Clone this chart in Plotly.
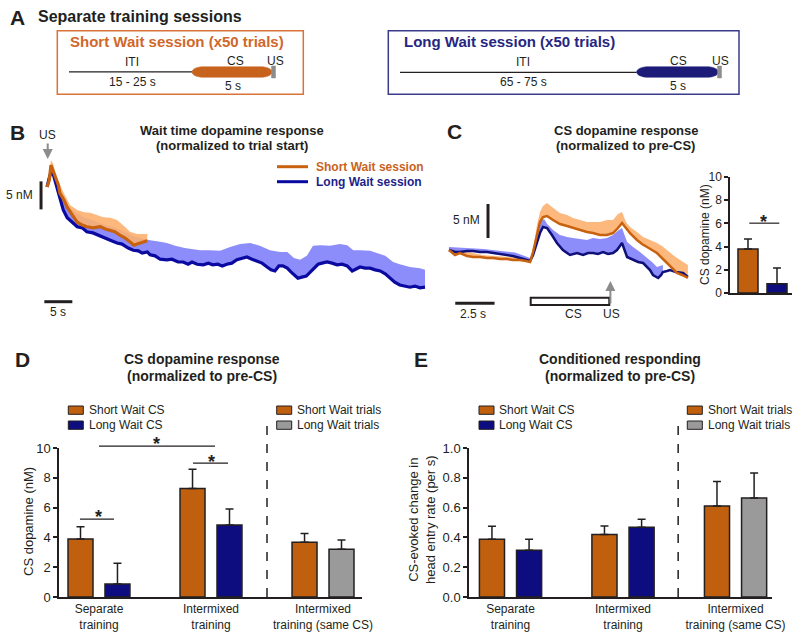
import plotly.graph_objects as go

# ---------------------------------------------------------------- data
# Panel B : wait-time dopamine traces (time in s from US, dopamine in nM)
b_long_t = [0.0, 0.5, 0.9, 1.4, 2.0, 2.3, 2.9, 3.6, 4.5, 5.4, 6.3, 7.1, 8.2, 9.5, 10.4, 11.3, 12.5, 13.4,
            14.5, 15.4, 16.3, 17.0, 17.9, 18.4, 19.3, 20.2, 21.4, 22.3, 23.4, 24.3, 25.2, 25.9, 26.8, 27.9,
            28.8, 29.6, 30.5, 31.3, 32.1, 33.0, 33.9, 34.8, 35.7, 36.6, 37.5, 38.4, 39.3, 40.0, 40.7, 41.4,
            42.1, 42.9, 43.6, 44.1, 44.8, 45.5, 46.3, 47.0, 47.7, 48.4, 49.1, 50.0, 50.9, 51.8, 52.7, 53.6,
            54.5, 55.2, 55.9, 56.8, 57.7, 58.6, 59.5, 60.4, 61.3, 62.1, 63.0, 63.9, 64.8, 65.7, 66.6, 67.5]
b_long = [18.4, 20.4, 21.4, 19.6, 17.5, 16.1, 14.3, 12.9, 12.0, 11.3, 11.1, 10.4, 10.2, 9.6, 9.3, 8.9, 8.4, 8.2,
          7.5, 7.1, 7.0, 6.6, 6.8, 6.3, 6.1, 5.5, 5.4, 5.5, 5.0, 5.0, 4.6, 5.0, 4.6, 4.5, 4.8, 4.5, 4.6, 4.3,
          4.6, 4.8, 5.4, 5.7, 5.9, 5.5, 5.2, 4.8, 4.1, 3.6, 3.4, 4.3, 4.3, 3.9, 3.2, 2.7, 2.1, 2.3, 2.5, 3.2,
          3.9, 4.6, 4.8, 5.0, 4.8, 4.5, 4.6, 4.3, 3.4, 3.8, 4.1, 3.9, 3.9, 3.6, 3.4, 2.9, 2.1, 1.4, 0.9, 0.7,
          0.5, 0.7, 0.4, 0.5]
b_long_up_t = [0.0, 0.5, 0.9, 1.4, 2.3, 3.6, 5.0, 6.8, 8.6, 10.4, 12.1, 13.9, 15.7, 17.5, 18.4, 20.2, 21.4,
               22.9, 24.6, 27.3, 29.1, 30.9, 32.7, 34.5, 36.3, 38.0, 39.8, 41.6, 42.9, 44.1, 45.2, 46.4, 47.5,
               48.8, 50.5, 52.3, 53.6, 54.7, 55.9, 57.7, 58.9, 60.4, 61.8, 63.0, 64.8, 66.6, 67.5]
b_long_up = [18.8, 21.1, 22.1, 21.1, 17.9, 15.2, 13.9, 12.9, 12.3, 11.6, 11.1, 10.4, 9.5, 9.1, 8.9, 8.6, 8.4,
             7.9, 7.5, 7.1, 7.1, 7.0, 7.7, 8.2, 8.4, 7.9, 7.1, 6.8, 6.8, 5.7, 5.4, 6.1, 7.9, 8.0, 7.9, 8.2,
             8.0, 7.1, 7.1, 7.0, 6.6, 6.1, 5.0, 4.6, 4.1, 3.9, 3.6]
b_short_t = [0.0, 0.4, 0.7, 1.1, 1.4, 2.0, 2.3, 3.0, 3.6, 4.5, 5.4, 6.3, 7.1, 8.2, 9.5, 10.4, 11.3, 12.1, 13.0,
             13.9, 14.8, 15.5, 16.1, 16.6, 17.3, 17.9]
b_short = [18.4, 19.6, 22.3, 21.4, 20.4, 18.8, 17.3, 16.1, 14.8, 13.4, 12.1, 11.6, 11.3, 11.1, 11.3, 10.9,
           10.7, 10.4, 9.8, 9.3, 8.6, 8.0, 8.2, 8.4, 8.6, 8.8]
b_short_up_t = [0.0, 0.4, 0.7, 1.1, 1.4, 2.0, 2.9, 4.1, 5.4, 6.6, 7.7, 8.9, 10.0, 11.3, 12.5, 13.8, 14.8,
                16.1, 17.1, 17.9]
b_short_up = [18.8, 20.4, 23.2, 22.5, 21.4, 19.6, 17.5, 15.2, 14.3, 13.9, 13.8, 13.4, 13.0, 12.9, 12.5, 11.4,
              10.4, 10.0, 10.0, 10.0]

# Panel C : CS dopamine traces (time in s from CS onset, dopamine in nM)
c_long_t = [-5.2, -4.82, -4.5, -4.05, -3.67, -3.23, -2.78, -2.4, -1.95, -1.51, -1.13, -0.68, -0.3, -0.04, 0.15,
            0.4, 0.59, 0.78, 1.04, 1.35, 1.67, 2.05, 2.5, 2.95, 3.33, 3.65, 3.96, 4.28, 4.6, 4.92, 5.24, 5.49,
            5.81, 6.13, 6.51, 6.83, 7.15, 7.4, 7.59, 7.78, 8.11, 8.3, 8.41, 8.67, 8.86, 9.24, 9.69, 10.0]
c_long = [1.76, 1.47, 1.47, 1.62, 1.62, 1.47, 1.47, 1.32, 1.18, 1.03, 0.88, 0.59, 0.29, 0.15, 1.03, 2.79,
          4.26, 5.15, 5.0, 3.97, 2.79, 1.76, 1.03, 1.32, 1.03, 1.32, 1.32, 1.18, 1.47, 1.18, 1.32, 1.76, 2.79,
          0.74, 0.29, 0.0, -0.15, -0.74, -1.18, -1.91, -2.35, -1.91, -1.47, -1.32, -1.18, -1.47, -1.62, -2.21]
c_long_up_t = [-5.2, -3.0, -1.0, -0.04, 0.15, 0.4, 0.59, 0.85, 1.04, 1.42, 1.86, 2.31, 2.69, 3.14, 3.58,
               3.96, 4.41, 4.85, 5.24, 5.55, 5.81, 6.13, 6.51, 6.95, 7.4, 7.72, 8.03, 8.41]
c_long_up = [2.2, 1.9, 1.4, 0.6, 1.47, 3.97, 5.88, 6.32, 5.59, 4.71, 3.97, 3.68, 3.53, 3.38, 3.24, 3.53,
             3.38, 3.53, 3.97, 4.6, 5.0, 2.94, 2.21, 1.47, 0.59, 0.0, -0.74, -0.44]
c_short_t = [-5.2, -4.82, -4.5, -4.05, -3.67, -3.23, -2.78, -2.4, -1.95, -1.51, -1.13, -0.68, -0.3, -0.04,
             0.15, 0.4, 0.59, 0.78, 1.04, 1.42, 1.86, 2.31, 2.69, 3.14, 3.58, 3.96, 4.41, 4.85, 5.24, 5.55,
             5.81, 6.06, 6.32, 6.76, 7.08, 7.4, 7.72, 8.03, 8.35, 8.67, 8.99, 9.31, 9.63, 10.0]
c_short = [1.76, 1.03, 1.32, 0.88, 0.74, 0.74, 0.59, 0.59, 0.44, 0.44, 0.29, 0.29, 0.15, 0.0, 1.47, 4.26,
           5.88, 6.62, 6.76, 6.18, 5.59, 5.29, 5.0, 4.71, 4.41, 4.26, 3.97, 3.97, 4.26, 5.0, 5.74, 5.0, 4.26,
           3.24, 2.65, 2.21, 1.76, 1.32, 0.59, -0.15, -0.88, -1.62, -1.91, -2.35]
c_short_up_t = [-5.2, -3.0, -1.0, -0.04, 0.15, 0.4, 0.59, 0.78, 1.04, 1.35, 1.86, 2.31, 2.69, 3.14, 3.58,
                3.96, 4.41, 4.85, 5.24, 5.55, 5.81, 6.06, 6.32, 6.76, 7.15, 7.59, 8.03, 8.35, 8.67, 9.05, 9.5,
                10.0]
c_short_up = [2.1, 1.0, 0.7, 0.3, 1.76, 5.44, 7.35, 8.24, 8.68, 8.09, 7.21, 6.91, 6.47, 6.18, 5.88, 5.88,
              5.88, 6.18, 6.18, 7.06, 7.35, 5.88, 5.15, 4.41, 3.68, 3.24, 2.79, 2.35, 1.76, 1.03, 0.29, -0.44]

# Panel C inset bars
c_bar_labels = ["Short Wait CS", "Long Wait CS"]
c_bar_vals = [3.8, 0.8]
c_bar_err = [0.85, 1.35]

# Panels D and E
group_labels = ["Separate<br>training", "Intermixed<br>training", "Intermixed<br>training (same CS)"]
d_short = [3.89, 7.29, 3.67]
d_short_err = [0.83, 1.28, 0.60]
d_long = [0.87, 4.83, 3.20]
d_long_err = [1.39, 1.07, 0.63]
e_short = [0.387, 0.419, 0.611]
e_short_err = [0.087, 0.058, 0.165]
e_long = [0.313, 0.468, 0.664]
e_long_err = [0.074, 0.053, 0.168]
d_ticks = [0, 2, 4, 6, 8, 10]
e_ticks = [0.0, 0.2, 0.4, 0.6, 0.8, 1.0]

# ---------------------------------------------------------------- style
W, H = 800, 636
FONT = "Liberation Sans, Arial, Helvetica, sans-serif"
TXT = "#231f20"
ORANGE = "#c0600f"
NAVY = "#0d0d80"
GRAY = "#9a9a9a"
LINE_BLUE = "#0a0aa0"
LINE_OR = "#c8620f"
BAND_BLUE = "rgba(128,128,250,0.9)"
BAND_OR = "rgba(253,176,112,0.9)"
ARROW_GRAY = "#8c8c8c"


def X(p):
    return p / W


def Y(p):
    return 1 - p / H


fig = go.Figure()


def band(t_up, up, t_line, line, color, xa, ya):
    lo, hi = t_up[0], t_up[-1]
    pts = [(t, v) for t, v in zip(t_line, line) if lo <= t <= hi]
    xs = list(t_up) + [p[0] for p in reversed(pts)]
    ys = list(up) + [p[1] for p in reversed(pts)]
    return go.Scatter(x=xs, y=ys, mode="none", fill="toself", fillcolor=color,
                      hoverinfo="skip", showlegend=False, xaxis=xa, yaxis=ya)


# ---- Panel B traces
fig.add_trace(band(b_long_up_t, b_long_up, b_long_t, b_long, BAND_BLUE, "x", "y"))
fig.add_trace(band(b_short_up_t, b_short_up, b_short_t, b_short, BAND_OR, "x", "y"))
fig.add_trace(go.Scatter(x=b_long_t, y=b_long, mode="lines", line=dict(color=LINE_BLUE, width=3.2),
                         name="Long Wait session", xaxis="x", yaxis="y"))
fig.add_trace(go.Scatter(x=b_short_t, y=b_short, mode="lines", line=dict(color=LINE_OR, width=3.2),
                         name="Short Wait session", xaxis="x", yaxis="y"))

# ---- Panel C traces
fig.add_trace(band(c_short_up_t, c_short_up, c_short_t, c_short, BAND_OR, "x2", "y2"))
fig.add_trace(band(c_long_up_t, c_long_up, c_long_t, c_long, BAND_BLUE, "x2", "y2"))
fig.add_trace(go.Scatter(x=c_long_t, y=c_long, mode="lines", line=dict(color="#10107a", width=2.5),
                         name="Long Wait session", xaxis="x2", yaxis="y2"))
fig.add_trace(go.Scatter(x=c_short_t, y=c_short, mode="lines", line=dict(color=LINE_OR, width=2.5),
                         name="Short Wait session", xaxis="x2", yaxis="y2"))


def err(arr):
    return dict(type="data", symmetric=False, array=arr, arrayminus=[0] * len(arr),
                color=TXT, thickness=1.5, width=4)


# ---- Panel C inset bars
fig.add_trace(go.Bar(x=list(range(len(c_bar_vals))), y=c_bar_vals, width=0.69, offset=-0.345,
                     marker=dict(color=[ORANGE, NAVY], line=dict(color=TXT, width=1.5)),
                     error_y=err(c_bar_err), xaxis="x3", yaxis="y3", showlegend=False))

# ---- Panels D / E bars
pos = list(range(len(group_labels)))
BW, OFF = 0.223, 0.165
long_colors = [NAVY, NAVY, GRAY]
for xa, ya, s, se, l, le in [("x4", "y4", d_short, d_short_err, d_long, d_long_err),
                             ("x5", "y5", e_short, e_short_err, e_long, e_long_err)]:
    fig.add_trace(go.Bar(x=pos, y=s, width=BW, offset=-OFF - BW / 2,
                         marker=dict(color=ORANGE, line=dict(color=TXT, width=1.5)),
                         error_y=err(se), xaxis=xa, yaxis=ya, showlegend=False))
    fig.add_trace(go.Bar(x=pos, y=l, width=BW, offset=OFF - BW / 2,
                         marker=dict(color=long_colors, line=dict(color=TXT, width=1.5)),
                         error_y=err(le), xaxis=xa, yaxis=ya, showlegend=False))

# ---------------------------------------------------------------- axes
hidden = dict(visible=False, showgrid=False, zeroline=False, fixedrange=True, automargin=False)
tf = dict(family=FONT, size=12, color=TXT)
tf13 = dict(family=FONT, size=13, color=TXT)
base_x = dict(showline=True, linecolor=TXT, linewidth=1.5, ticks="", showgrid=False, zeroline=False,
              automargin=False, fixedrange=True)
base_y = dict(showline=True, linecolor=TXT, linewidth=1.5, ticks="outside", ticklen=4, tickwidth=1.5,
              tickcolor=TXT, showgrid=False, zeroline=False, automargin=False, fixedrange=True)

fig.update_layout(
    xaxis=dict(domain=[X(30), X(432)], range=[-3.04, 68.75], anchor="y", **hidden),
    yaxis=dict(domain=[Y(310), Y(140)], range=[-3.57, 26.79], anchor="x", **hidden),
    xaxis2=dict(domain=[X(445), X(700)], range=[-5.452, 10.77], anchor="y2", **hidden),
    yaxis2=dict(domain=[Y(310), Y(190)], range=[-7.06, 10.59], anchor="x2", **hidden),
    xaxis3=dict(domain=[X(730), X(792)], range=[-0.62, 1.517], anchor="y3", showticklabels=False, **base_x),
    yaxis3=dict(domain=[Y(293), Y(177)], range=[0, 10], anchor="x3", tickvals=d_ticks, tickfont=tf, **base_y),
    xaxis4=dict(domain=[X(59), X(362)], range=[-0.357, 2.348], anchor="y4", tickvals=pos,
                ticktext=group_labels, tickfont=tf, **base_x),
    yaxis4=dict(domain=[Y(597), Y(448)], range=[0, 10], anchor="x4", tickvals=d_ticks, tickfont=tf13, **base_y),
    xaxis5=dict(domain=[X(469), X(772)], range=[-0.369, 2.324], anchor="y5", tickvals=pos,
                ticktext=group_labels, tickfont=tf, **base_x),
    yaxis5=dict(domain=[Y(597), Y(448)], range=[0, 1], anchor="x5", tickvals=e_ticks, tickformat=".1f",
                tickfont=tf13, **base_y),
)

# ---------------------------------------------------------------- shapes
shapes = []
ann = []


def T(x, y, s, size=12, color=TXT, xa="center", ya="middle", angle=0):
    ann.append(dict(x=X(x), y=Y(y), xref="paper", yref="paper", text=s, showarrow=False,
                    xanchor=xa, yanchor=ya, textangle=angle,
                    font=dict(family=FONT, size=size, color=color)))


def star(xv, xref, ypx):
    ann.append(dict(x=xv, y=Y(ypx), xref=xref, yref="paper", text="<b>*</b>", showarrow=False,
                    xanchor="center", yanchor="middle", font=dict(family=FONT, size=18, color=TXT)))


def pline(x0, y0, x1, y1, color=TXT, width=1.0, dash=None):
    shapes.append(dict(type="line", xref="paper", yref="paper", x0=X(x0), y0=Y(y0), x1=X(x1), y1=Y(y1),
                       line=dict(color=color, width=width, dash=dash)))


def prect(x0, y0, x1, y1, fill=None, color=TXT, width=1.0):
    shapes.append(dict(type="rect", xref="paper", yref="paper", x0=X(x0), y0=Y(y1), x1=X(x1), y1=Y(y0),
                       fillcolor=fill if fill else "rgba(0,0,0,0)",
                       line=dict(color=color, width=width)))


def capsule(x0, x1, yc, ry, rx, color):
    k = 4.0 / 3.0
    p = (f"M {X(x0 + rx)},{Y(yc - ry)} L {X(x1 - rx)},{Y(yc - ry)} "
         f"C {X(x1 - rx + k * rx)},{Y(yc - ry)} {X(x1 - rx + k * rx)},{Y(yc + ry)} {X(x1 - rx)},{Y(yc + ry)} "
         f"L {X(x0 + rx)},{Y(yc + ry)} "
         f"C {X(x0 + rx - k * rx)},{Y(yc + ry)} {X(x0 + rx - k * rx)},{Y(yc - ry)} {X(x0 + rx)},{Y(yc - ry)} Z")
    shapes.append(dict(type="path", xref="paper", yref="paper", path=p, fillcolor=color,
                       line=dict(color=color, width=0.5)))


# ---- Panel A schematic
T(8, 17, "<b>A</b>", 21, xa="left")
T(36, 16.5, "<b>Separate training sessions</b>", 16, xa="left")
OR_TXT, BL_TXT = "#d0672a", "#262680"
prect(57.3, 30.7, 303.3, 94.3, color="#d9733a", width=1.5)
T(68, 42, "<b>Short Wait session (x50 trials)</b>", 15, color=OR_TXT, xa="left")
pline(69, 71.8, 192, 71.8, width=1.2)
capsule(192, 272, 72, 5.3, 12, "#c8631e")
prect(271.5, 66, 275.5, 78, fill=ARROW_GRAY, color=ARROW_GRAY, width=0.5)
T(131.7, 61.7, "ITI", 12)
T(132.7, 81.7, "15 - 25 s", 12)
T(235.7, 60.7, "CS", 12)
T(275, 60.7, "US", 12)
T(233.3, 86, "5 s", 12)

prect(388.3, 30.7, 739, 94.3, color="#3b3b8c", width=1.5)
T(401.7, 42, "<b>Long Wait session (x50 trials)</b>", 15, color=BL_TXT, xa="left")
pline(400, 72.3, 636.7, 72.3, width=1.2)
capsule(636.7, 718.3, 72, 5.3, 12, "#1c1c78")
prect(717.5, 66, 721.5, 78, fill=ARROW_GRAY, color=ARROW_GRAY, width=0.5)
T(523.3, 62.3, "ITI", 12)
T(523.3, 81.7, "65 - 75 s", 12)
T(678.3, 60.7, "CS", 12)
T(720, 60.7, "US", 12)
T(678.3, 86, "5 s", 12)

# ---- Panel B decorations
T(8, 132.7, "<b>B</b>", 21, xa="left")
T(231.5, 130, "<b>Wait time dopamine response</b>", 13)
T(231.5, 145, "<b>(normalized to trial start)</b>", 13)
pline(277, 166.7, 308, 166.7, color=LINE_OR, width=3)
T(314, 166.7, "<b>Short Wait session</b>", 12, color="#c8641e", xa="left")
pline(277, 181.7, 308, 181.7, color=LINE_BLUE, width=3)
T(314, 181.7, "<b>Long Wait session</b>", 12, color="#1f1f8a", xa="left")
shapes.append(dict(type="line", xref="x", yref="y", x0=-1.07, x1=-1.07, y0=14.4, y1=19.4,
                   line=dict(color=TXT, width=3)))
shapes.append(dict(type="line", xref="x", yref="y", x0=-0.48, x1=4.52, y0=-2.09, y1=-2.09,
                   line=dict(color=TXT, width=3)))
T(35, 195.5, "5 nM", 12, xa="right")
T(58.3, 312, "5 s", 12)
T(47.7, 134.5, "US", 12)
ann.append(dict(x=0.125, y=23.4, xref="x", yref="y", ax=0, ay=-17, axref="pixel", ayref="pixel",
                text="", showarrow=True, arrowhead=2, arrowsize=1, arrowwidth=2, arrowcolor=ARROW_GRAY,
                standoff=0, startstandoff=0))

# ---- Panel C decorations
T(445, 131.7, "<b>C</b>", 21, xa="left")
T(625.5, 130, "<b>CS dopamine response</b>", 13)
T(625.5, 145, "<b>(normalized to pre-CS)</b>", 13)
shapes.append(dict(type="line", xref="x2", yref="y2", x0=-2.716, x1=-2.716, y0=3.53, y1=8.53,
                   line=dict(color=TXT, width=3)))
shapes.append(dict(type="line", xref="x2", yref="y2", x0=-4.8, x1=-2.3, y0=-6.07, y1=-6.07,
                   line=dict(color=TXT, width=3)))
shapes.append(dict(type="rect", xref="x2", yref="y2", x0=0, x1=5, y0=-6.32, y1=-5.25,
                   fillcolor="white", line=dict(color=TXT, width=2)))
ann.append(dict(x=5.07, y=-2.79, xref="x2", yref="y2", ax=0, ay=24, axref="pixel", ayref="pixel",
                text="", showarrow=True, arrowhead=2, arrowsize=1, arrowwidth=2, arrowcolor=ARROW_GRAY,
                standoff=0, startstandoff=0))
T(481.7, 220, "5 nM", 12, xa="right")
T(473.3, 313.5, "2.5 s", 12)
T(573.3, 313.5, "CS", 12)
T(611.7, 313.5, "US", 12)
T(705, 235, "CS dopamine (nM)", 12, angle=-90)
shapes.append(dict(type="line", xref="x3", yref="y3 domain", x0=0.045, x1=1.08, y0=0.602, y1=0.602,
                   line=dict(color=TXT, width=1.2)))
star(0.54, "x3", 222)

# ---- Panel D decorations
T(13, 359.3, "<b>D</b>", 21, xa="left")
T(201.7, 359.3, "<b>CS dopamine response</b>", 14)
T(201.7, 376, "<b>(normalized to pre-CS)</b>", 14)
T(28, 522, "CS dopamine (nM)", 13, angle=-90)
prect(68.3, 406, 83.3, 414.3, fill=ORANGE)
T(86.5, 410.3, "Short Wait CS", 12, xa="left")
prect(68.3, 421, 83.3, 429.3, fill=NAVY)
T(86.5, 425.3, "Long Wait CS", 12, xa="left")
prect(276.7, 406, 291.7, 414.3, fill=ORANGE)
T(295, 410.3, "Short Wait trials", 12, xa="left")
prect(276.7, 421, 291.7, 429.3, fill=GRAY)
T(295, 425.3, "Long Wait trials", 12, xa="left")
shapes.append(dict(type="line", xref="x4", yref="y4 domain", x0=1.5, x1=1.5, y0=0, y1=1.2,
                   line=dict(color=TXT, width=1.5, dash="dash")))
for x0, x1, lev, sx, sy in [(-0.17, 0.134, 5.23, 0.0, 517), (0.0, 1.036, 10.13, 0.51, 444),
                             (0.839, 1.152, 8.99, 1.0, 462)]:
    shapes.append(dict(type="line", xref="x4", yref="y4 domain", x0=x0, x1=x1, y0=lev / 10, y1=lev / 10,
                       line=dict(color=TXT, width=1.2)))
    star(sx, "x4", sy)

# ---- Panel E decorations
T(412, 359.3, "<b>E</b>", 21, xa="left")
T(620, 359.3, "<b>Conditioned responding</b>", 14)
T(620, 376, "<b>(normalized to pre-CS)</b>", 14)
T(422, 520, "CS-evoked change in<br>head entry rate (per s)", 13, angle=-90)
prect(479, 406, 494, 414.3, fill=ORANGE)
T(497, 410.3, "Short Wait CS", 12, xa="left")
prect(479, 421, 494, 429.3, fill=NAVY)
T(497, 425.3, "Long Wait CS", 12, xa="left")
prect(687.3, 406, 702.3, 414.3, fill=ORANGE)
T(706, 410.3, "Short Wait trials", 12, xa="left")
prect(687.3, 421, 702.3, 429.3, fill=GRAY)
T(706, 425.3, "Long Wait trials", 12, xa="left")
shapes.append(dict(type="line", xref="x5", yref="y5 domain", x0=1.49, x1=1.49, y0=0, y1=1.2,
                   line=dict(color=TXT, width=1.5, dash="dash")))

fig.update_layout(
    width=W, height=H, autosize=False, template="none",
    margin=dict(l=0, r=0, t=0, b=0, pad=0),
    paper_bgcolor="white", plot_bgcolor="rgba(0,0,0,0)",
    showlegend=False, barmode="overlay",
    font=dict(family=FONT, size=12, color=TXT),
    shapes=shapes, annotations=ann,
)

fig.write_html("out.html", config={"displayModeBar": False},
               post_script="document.body.style.margin='0';document.body.style.padding='0';"
                           "document.body.style.overflow='hidden';")
